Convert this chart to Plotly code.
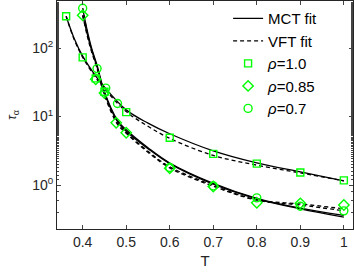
import plotly.graph_objects as go

# ---- data ----
T_r10 = [0.362, 0.40, 0.43, 0.45, 0.50, 0.60, 0.70, 0.80, 0.90, 1.00]
tau_r10 = [290, 73, 36, 23, 11.6, 4.9, 2.85, 2.05, 1.52, 1.17]

T_r085 = [0.40, 0.43, 0.45, 0.477, 0.50, 0.60, 0.70, 0.80, 0.90, 1.00]
tau_r085 = [300, 35, 22, 8.1, 5.8, 1.75, 0.95, 0.55, 0.54, 0.51]

T_r07 = [0.40, 0.433, 0.453, 0.48, 0.60, 0.70, 0.80, 0.90, 1.00]
tau_r07 = [380, 50, 26, 15.5, 1.8, 0.97, 0.65, 0.49, 0.42]

# fit curves
T_fit10 = [0.362, 0.38, 0.40, 0.43, 0.45, 0.50, 0.55, 0.60, 0.70, 0.80, 0.90, 1.00]
mct10 = [290, 140, 76, 39, 27, 12.5, 8.0, 5.6, 3.15, 2.1, 1.55, 1.15]
vft10 = [290, 135, 73, 37, 25.5, 11.8, 7.2, 4.8, 2.7, 1.95, 1.5, 1.15]

T_fitlo = [0.40, 0.41, 0.42, 0.433, 0.45, 0.48, 0.50, 0.55, 0.60, 0.70, 0.80, 0.90, 1.00]
mct07 = [380, 185, 102, 56, 23, 8.8, 6.4, 3.5, 2.1, 1.06, 0.64, 0.46, 0.36]
vft07 = [380, 175, 97, 53, 21.5, 8.0, 5.9, 3.1, 1.85, 0.99, 0.61, 0.53, 0.45]
mct085 = [300, 165, 95, 53, 22, 8.4, 6.1, 3.4, 2.05, 1.03, 0.63, 0.45, 0.34]
vft085 = [300, 155, 90, 50, 20.5, 7.7, 5.7, 3.0, 1.78, 0.96, 0.60, 0.51, 0.42]

xtick_vals = [0.4, 0.5, 0.6, 0.7, 0.8, 0.9, 1.0]
xtick_text = ["0.4", "0.5", "0.6", "0.7", "0.8", "0.9", "1"]
ytick_vals = [1, 10, 100]
ytick_text = ["10<sup>0</sup>", "10<sup>1</sup>", "10<sup>2</sup>"]

GREEN = "#00ff00"
DASH = "4px,3px"

fig = go.Figure()

def line(x, y, dash, name=None, show=False):
    fig.add_trace(go.Scatter(
        x=x, y=y, mode="lines", line_shape="spline",
        line=dict(color="black", width=1.3, dash=dash),
        name=name, showlegend=show, hoverinfo="skip"))

line(T_fit10, mct10, "solid", "MCT fit", True)
line(T_fit10, vft10, DASH, "VFT fit", True)
line(T_fitlo, mct085, "solid")
line(T_fitlo, vft085, DASH)
line(T_fitlo, mct07, "solid")
line(T_fitlo, vft07, DASH)

def pts(x, y, sym, size, name):
    fig.add_trace(go.Scatter(
        x=x, y=y, mode="markers", name=name,
        marker=dict(symbol=sym, size=size, color=GREEN,
                    line=dict(color=GREEN, width=1.4))))

pts(T_r10, tau_r10, "square-open", 7, "<i>ρ</i>=1.0")
pts(T_r085, tau_r085, "diamond-open", 8, "<i>ρ</i>=0.85")
pts(T_r07, tau_r07, "circle-open", 8, "<i>ρ</i>=0.7")

axis_col = "#262626"
fig.update_layout(
    width=354, height=273,
    margin=dict(l=57, r=1, t=1, b=44),
    paper_bgcolor="white", plot_bgcolor="white",
    font=dict(family="Liberation Sans, Arial, sans-serif", color=axis_col, size=14),
    legend=dict(x=0.578, xanchor="left", y=0.995, yanchor="top",
                bgcolor="rgba(0,0,0,0)", font=dict(size=15, color="black"),
                itemwidth=30, tracegroupgap=0),
    xaxis=dict(range=[0.341, 1.021], tickvals=xtick_vals, ticktext=xtick_text,
               ticks="inside", ticklen=4, showline=True, linecolor=axis_col,
               linewidth=1, mirror="ticks", showgrid=False, zeroline=False,
               title=dict(text="T", standoff=6, font=dict(size=15))),
    yaxis=dict(type="log", range=[-0.642, 2.686], tickvals=ytick_vals,
               ticktext=ytick_text, ticks="inside", ticklen=4, showline=True,
               linecolor=axis_col, linewidth=1, mirror="ticks", showgrid=False,
               zeroline=False,
               minor=dict(ticks="inside", ticklen=2, showgrid=False),
               title=dict(text="<i>τ</i><sub>α</sub>", standoff=12, font=dict(size=13))),
)

fig.write_html("out.html", config={"displayModeBar": False},
               post_script="document.body.style.margin='0';document.body.style.overflow='hidden';")
